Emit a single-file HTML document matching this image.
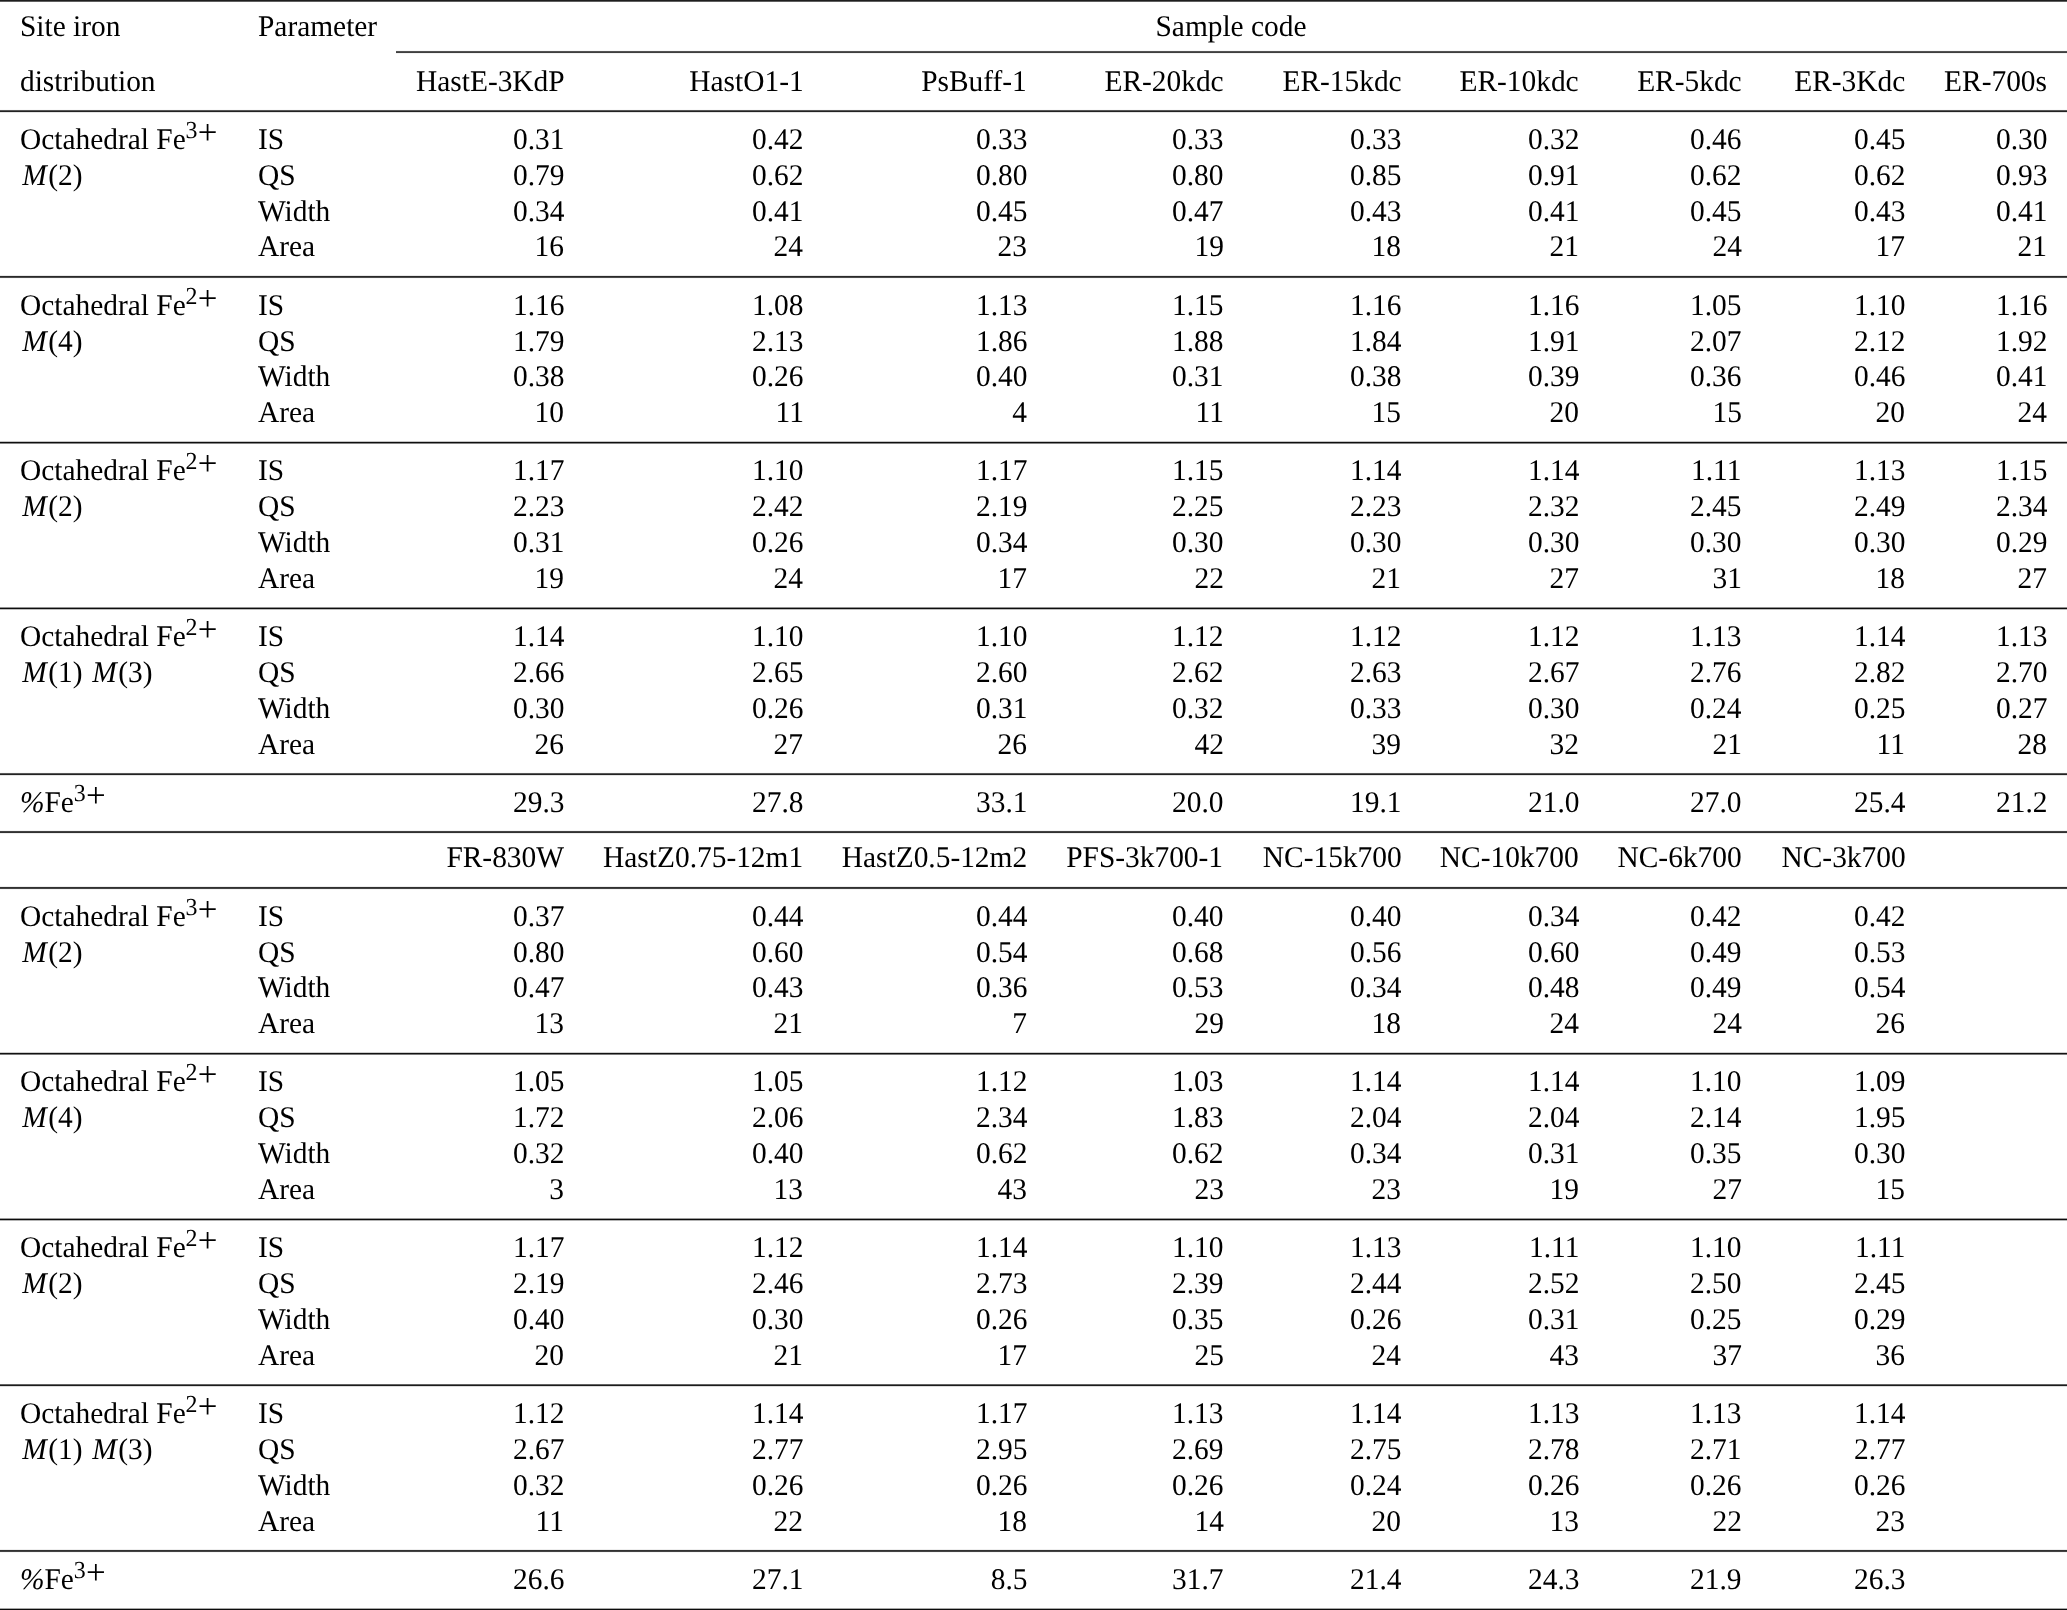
<!DOCTYPE html>
<html lang="en"><head><meta charset="utf-8"><title>Table</title>
<style>
html,body{margin:0;padding:0;background:#fff;}
body{width:2067px;height:1610px;position:relative;overflow:hidden;
 font-family:"Liberation Serif","Times New Roman",Times,serif;font-size:30.0px;color:#000;
 -webkit-font-smoothing:antialiased;text-rendering:geometricPrecision;font-kerning:normal;}
#t{position:absolute;left:0;top:0;width:2067px;height:1610px;will-change:transform;}
.r{position:absolute;}
.row{position:absolute;left:0;width:2067px;height:36px;line-height:36px;white-space:pre;}
.c{position:absolute;top:0;height:36px;white-space:pre;}
.cl{transform:scaleX(0.98);transform-origin:0 0;}
.cr{transform:scaleX(0.98);transform-origin:100% 0;}
.cc{transform:translateX(-50%) scaleX(0.98);transform-origin:50% 0;}
.s{line-height:0;}
.d{position:relative;top:-11.2px;font-size:24.4px;line-height:0;margin-left:-0.2px;}
.p{position:relative;top:-4.6px;font-size:35.6px;line-height:0;margin-left:0.4px;}
i{font-style:italic;}
.m{margin-left:2.3px;}
.g{margin-left:1.6px;}
</style></head>
<body>
<div id="t">
<div class="r" style="top:0px;left:0.0px;width:2067.0px;height:2px;background:linear-gradient(to bottom,#1e1e1e 0px 1px,#5f5f5f 1px 2px)"></div>
<div class="r" style="top:50px;left:396.2px;width:1670.8px;height:4px;background:linear-gradient(to bottom,#f9f9f9 0px 1px,#535353 1px 2px,#3f3f3f 2px 3px,#f3f3f3 3px 4px)"></div>
<div class="r" style="top:109px;left:0.0px;width:2067.0px;height:4px;background:linear-gradient(to bottom,#fafafa 0px 1px,#585858 1px 2px,#222222 2px 3px,#e4e4e4 3px 4px)"></div>
<div class="r" style="top:275px;left:0.0px;width:2067.0px;height:4px;background:linear-gradient(to bottom,#e9e9e9 0px 1px,#292929 1px 2px,#4d4d4d 2px 3px,#f8f8f8 3px 4px)"></div>
<div class="r" style="top:441px;left:0.0px;width:2067.0px;height:3px;background:linear-gradient(to bottom,#c5c5c5 0px 1px,#0f0f0f 1px 2px,#858585 2px 3px)"></div>
<div class="r" style="top:607px;left:0.0px;width:2067.0px;height:3px;background:linear-gradient(to bottom,#919191 0px 1px,#0d0d0d 1px 2px,#bcbcbc 2px 3px)"></div>
<div class="r" style="top:772px;left:0.0px;width:2067.0px;height:4px;background:linear-gradient(to bottom,#fafafa 0px 1px,#585858 1px 2px,#222222 2px 3px,#e4e4e4 3px 4px)"></div>
<div class="r" style="top:830px;left:0.0px;width:2067.0px;height:4px;background:linear-gradient(to bottom,#f5f5f5 0px 1px,#434343 1px 2px,#313131 2px 3px,#eeeeee 3px 4px)"></div>
<div class="r" style="top:886px;left:0.0px;width:2067.0px;height:4px;background:linear-gradient(to bottom,#eeeeee 0px 1px,#313131 1px 2px,#434343 2px 3px,#f5f5f5 3px 4px)"></div>
<div class="r" style="top:1052px;left:0.0px;width:2067.0px;height:3px;background:linear-gradient(to bottom,#cecece 0px 1px,#121212 1px 2px,#7a7a7a 2px 3px)"></div>
<div class="r" style="top:1218px;left:0.0px;width:2067.0px;height:3px;background:linear-gradient(to bottom,#9c9c9c 0px 1px,#0b0b0b 1px 2px,#b2b2b2 2px 3px)"></div>
<div class="r" style="top:1384px;left:0.0px;width:2067.0px;height:3px;background:linear-gradient(to bottom,#636363 0px 1px,#1c1c1c 1px 2px,#dddddd 2px 3px)"></div>
<div class="r" style="top:1549px;left:0.0px;width:2067.0px;height:4px;background:linear-gradient(to bottom,#eeeeee 0px 1px,#313131 1px 2px,#434343 2px 3px,#f5f5f5 3px 4px)"></div>
<div class="r" style="top:1608px;left:0.0px;width:2067.0px;height:2px;background:linear-gradient(to bottom,#a7a7a7 0px 1px,#0b0b0b 1px 2px)"></div>
<div class="row" style="top:9px"><span class="c cl" style="left:20.00px">Site iron</span><span class="c cl" style="left:257.70px">Parameter</span><span class="c cc" style="left:1231.45px">Sample code</span></div>
<div class="row" style="top:64px"><span class="c cl" style="left:20.00px">distribution</span><span class="c cr" style="right:1502.80px">HastE-3KdP</span><span class="c cr" style="right:1263.60px">HastO1-1</span><span class="c cr" style="right:1039.80px">PsBuff-1</span><span class="c cr" style="right:843.50px">ER-20kdc</span><span class="c cr" style="right:665.80px">ER-15kdc</span><span class="c cr" style="right:488.00px">ER-10kdc</span><span class="c cr" style="right:325.20px">ER-5kdc</span><span class="c cr" style="right:161.80px">ER-3Kdc</span><span class="c cr" style="right:19.70px">ER-700s</span></div>
<div class="row" style="top:122px"><span class="c cl" style="left:20.00px">Octahedral Fe<span class="s"><span class="d">3</span><span class="p">+</span></span></span><span class="c cl" style="left:257.70px">IS</span><span class="c cr" style="right:1502.80px">0.31</span><span class="c cr" style="right:1263.60px">0.42</span><span class="c cr" style="right:1039.80px">0.33</span><span class="c cr" style="right:843.50px">0.33</span><span class="c cr" style="right:665.80px">0.33</span><span class="c cr" style="right:488.00px">0.32</span><span class="c cr" style="right:325.20px">0.46</span><span class="c cr" style="right:161.80px">0.45</span><span class="c cr" style="right:19.70px">0.30</span></div>
<div class="row" style="top:158px"><span class="c cl" style="left:20.00px"><i class="m">M</i><span class="g">(2)</span></span><span class="c cl" style="left:257.70px">QS</span><span class="c cr" style="right:1502.80px">0.79</span><span class="c cr" style="right:1263.60px">0.62</span><span class="c cr" style="right:1039.80px">0.80</span><span class="c cr" style="right:843.50px">0.80</span><span class="c cr" style="right:665.80px">0.85</span><span class="c cr" style="right:488.00px">0.91</span><span class="c cr" style="right:325.20px">0.62</span><span class="c cr" style="right:161.80px">0.62</span><span class="c cr" style="right:19.70px">0.93</span></div>
<div class="row" style="top:194px"><span class="c cl" style="left:257.70px">Width</span><span class="c cr" style="right:1502.80px">0.34</span><span class="c cr" style="right:1263.60px">0.41</span><span class="c cr" style="right:1039.80px">0.45</span><span class="c cr" style="right:843.50px">0.47</span><span class="c cr" style="right:665.80px">0.43</span><span class="c cr" style="right:488.00px">0.41</span><span class="c cr" style="right:325.20px">0.45</span><span class="c cr" style="right:161.80px">0.43</span><span class="c cr" style="right:19.70px">0.41</span></div>
<div class="row" style="top:229px"><span class="c cl" style="left:257.70px">Area</span><span class="c cr" style="right:1502.80px">16</span><span class="c cr" style="right:1263.60px">24</span><span class="c cr" style="right:1039.80px">23</span><span class="c cr" style="right:843.50px">19</span><span class="c cr" style="right:665.80px">18</span><span class="c cr" style="right:488.00px">21</span><span class="c cr" style="right:325.20px">24</span><span class="c cr" style="right:161.80px">17</span><span class="c cr" style="right:19.70px">21</span></div>
<div class="row" style="top:288px"><span class="c cl" style="left:20.00px">Octahedral Fe<span class="s"><span class="d">2</span><span class="p">+</span></span></span><span class="c cl" style="left:257.70px">IS</span><span class="c cr" style="right:1502.80px">1.16</span><span class="c cr" style="right:1263.60px">1.08</span><span class="c cr" style="right:1039.80px">1.13</span><span class="c cr" style="right:843.50px">1.15</span><span class="c cr" style="right:665.80px">1.16</span><span class="c cr" style="right:488.00px">1.16</span><span class="c cr" style="right:325.20px">1.05</span><span class="c cr" style="right:161.80px">1.10</span><span class="c cr" style="right:19.70px">1.16</span></div>
<div class="row" style="top:324px"><span class="c cl" style="left:20.00px"><i class="m">M</i><span class="g">(4)</span></span><span class="c cl" style="left:257.70px">QS</span><span class="c cr" style="right:1502.80px">1.79</span><span class="c cr" style="right:1263.60px">2.13</span><span class="c cr" style="right:1039.80px">1.86</span><span class="c cr" style="right:843.50px">1.88</span><span class="c cr" style="right:665.80px">1.84</span><span class="c cr" style="right:488.00px">1.91</span><span class="c cr" style="right:325.20px">2.07</span><span class="c cr" style="right:161.80px">2.12</span><span class="c cr" style="right:19.70px">1.92</span></div>
<div class="row" style="top:359px"><span class="c cl" style="left:257.70px">Width</span><span class="c cr" style="right:1502.80px">0.38</span><span class="c cr" style="right:1263.60px">0.26</span><span class="c cr" style="right:1039.80px">0.40</span><span class="c cr" style="right:843.50px">0.31</span><span class="c cr" style="right:665.80px">0.38</span><span class="c cr" style="right:488.00px">0.39</span><span class="c cr" style="right:325.20px">0.36</span><span class="c cr" style="right:161.80px">0.46</span><span class="c cr" style="right:19.70px">0.41</span></div>
<div class="row" style="top:395px"><span class="c cl" style="left:257.70px">Area</span><span class="c cr" style="right:1502.80px">10</span><span class="c cr" style="right:1263.60px">11</span><span class="c cr" style="right:1039.80px">4</span><span class="c cr" style="right:843.50px">11</span><span class="c cr" style="right:665.80px">15</span><span class="c cr" style="right:488.00px">20</span><span class="c cr" style="right:325.20px">15</span><span class="c cr" style="right:161.80px">20</span><span class="c cr" style="right:19.70px">24</span></div>
<div class="row" style="top:453px"><span class="c cl" style="left:20.00px">Octahedral Fe<span class="s"><span class="d">2</span><span class="p">+</span></span></span><span class="c cl" style="left:257.70px">IS</span><span class="c cr" style="right:1502.80px">1.17</span><span class="c cr" style="right:1263.60px">1.10</span><span class="c cr" style="right:1039.80px">1.17</span><span class="c cr" style="right:843.50px">1.15</span><span class="c cr" style="right:665.80px">1.14</span><span class="c cr" style="right:488.00px">1.14</span><span class="c cr" style="right:325.20px">1.11</span><span class="c cr" style="right:161.80px">1.13</span><span class="c cr" style="right:19.70px">1.15</span></div>
<div class="row" style="top:489px"><span class="c cl" style="left:20.00px"><i class="m">M</i><span class="g">(2)</span></span><span class="c cl" style="left:257.70px">QS</span><span class="c cr" style="right:1502.80px">2.23</span><span class="c cr" style="right:1263.60px">2.42</span><span class="c cr" style="right:1039.80px">2.19</span><span class="c cr" style="right:843.50px">2.25</span><span class="c cr" style="right:665.80px">2.23</span><span class="c cr" style="right:488.00px">2.32</span><span class="c cr" style="right:325.20px">2.45</span><span class="c cr" style="right:161.80px">2.49</span><span class="c cr" style="right:19.70px">2.34</span></div>
<div class="row" style="top:525px"><span class="c cl" style="left:257.70px">Width</span><span class="c cr" style="right:1502.80px">0.31</span><span class="c cr" style="right:1263.60px">0.26</span><span class="c cr" style="right:1039.80px">0.34</span><span class="c cr" style="right:843.50px">0.30</span><span class="c cr" style="right:665.80px">0.30</span><span class="c cr" style="right:488.00px">0.30</span><span class="c cr" style="right:325.20px">0.30</span><span class="c cr" style="right:161.80px">0.30</span><span class="c cr" style="right:19.70px">0.29</span></div>
<div class="row" style="top:561px"><span class="c cl" style="left:257.70px">Area</span><span class="c cr" style="right:1502.80px">19</span><span class="c cr" style="right:1263.60px">24</span><span class="c cr" style="right:1039.80px">17</span><span class="c cr" style="right:843.50px">22</span><span class="c cr" style="right:665.80px">21</span><span class="c cr" style="right:488.00px">27</span><span class="c cr" style="right:325.20px">31</span><span class="c cr" style="right:161.80px">18</span><span class="c cr" style="right:19.70px">27</span></div>
<div class="row" style="top:619px"><span class="c cl" style="left:20.00px">Octahedral Fe<span class="s"><span class="d">2</span><span class="p">+</span></span></span><span class="c cl" style="left:257.70px">IS</span><span class="c cr" style="right:1502.80px">1.14</span><span class="c cr" style="right:1263.60px">1.10</span><span class="c cr" style="right:1039.80px">1.10</span><span class="c cr" style="right:843.50px">1.12</span><span class="c cr" style="right:665.80px">1.12</span><span class="c cr" style="right:488.00px">1.12</span><span class="c cr" style="right:325.20px">1.13</span><span class="c cr" style="right:161.80px">1.14</span><span class="c cr" style="right:19.70px">1.13</span></div>
<div class="row" style="top:655px"><span class="c cl" style="left:20.00px"><i class="m">M</i><span class="g">(1)</span> <i class="m">M</i><span class="g">(3)</span></span><span class="c cl" style="left:257.70px">QS</span><span class="c cr" style="right:1502.80px">2.66</span><span class="c cr" style="right:1263.60px">2.65</span><span class="c cr" style="right:1039.80px">2.60</span><span class="c cr" style="right:843.50px">2.62</span><span class="c cr" style="right:665.80px">2.63</span><span class="c cr" style="right:488.00px">2.67</span><span class="c cr" style="right:325.20px">2.76</span><span class="c cr" style="right:161.80px">2.82</span><span class="c cr" style="right:19.70px">2.70</span></div>
<div class="row" style="top:691px"><span class="c cl" style="left:257.70px">Width</span><span class="c cr" style="right:1502.80px">0.30</span><span class="c cr" style="right:1263.60px">0.26</span><span class="c cr" style="right:1039.80px">0.31</span><span class="c cr" style="right:843.50px">0.32</span><span class="c cr" style="right:665.80px">0.33</span><span class="c cr" style="right:488.00px">0.30</span><span class="c cr" style="right:325.20px">0.24</span><span class="c cr" style="right:161.80px">0.25</span><span class="c cr" style="right:19.70px">0.27</span></div>
<div class="row" style="top:727px"><span class="c cl" style="left:257.70px">Area</span><span class="c cr" style="right:1502.80px">26</span><span class="c cr" style="right:1263.60px">27</span><span class="c cr" style="right:1039.80px">26</span><span class="c cr" style="right:843.50px">42</span><span class="c cr" style="right:665.80px">39</span><span class="c cr" style="right:488.00px">32</span><span class="c cr" style="right:325.20px">21</span><span class="c cr" style="right:161.80px">11</span><span class="c cr" style="right:19.70px">28</span></div>
<div class="row" style="top:785px"><span class="c cl" style="left:20.00px"><i>%</i>Fe<span class="s"><span class="d">3</span><span class="p">+</span></span></span><span class="c cr" style="right:1502.80px">29.3</span><span class="c cr" style="right:1263.60px">27.8</span><span class="c cr" style="right:1039.80px">33.1</span><span class="c cr" style="right:843.50px">20.0</span><span class="c cr" style="right:665.80px">19.1</span><span class="c cr" style="right:488.00px">21.0</span><span class="c cr" style="right:325.20px">27.0</span><span class="c cr" style="right:161.80px">25.4</span><span class="c cr" style="right:19.70px">21.2</span></div>
<div class="row" style="top:840px"><span class="c cr" style="right:1502.80px">FR-830W</span><span class="c cr" style="right:1263.60px">HastZ0.75-12m1</span><span class="c cr" style="right:1039.80px">HastZ0.5-12m2</span><span class="c cr" style="right:843.50px">PFS-3k700-1</span><span class="c cr" style="right:665.80px">NC-15k700</span><span class="c cr" style="right:488.00px">NC-10k700</span><span class="c cr" style="right:325.20px">NC-6k700</span><span class="c cr" style="right:161.80px">NC-3k700</span></div>
<div class="row" style="top:899px"><span class="c cl" style="left:20.00px">Octahedral Fe<span class="s"><span class="d">3</span><span class="p">+</span></span></span><span class="c cl" style="left:257.70px">IS</span><span class="c cr" style="right:1502.80px">0.37</span><span class="c cr" style="right:1263.60px">0.44</span><span class="c cr" style="right:1039.80px">0.44</span><span class="c cr" style="right:843.50px">0.40</span><span class="c cr" style="right:665.80px">0.40</span><span class="c cr" style="right:488.00px">0.34</span><span class="c cr" style="right:325.20px">0.42</span><span class="c cr" style="right:161.80px">0.42</span></div>
<div class="row" style="top:935px"><span class="c cl" style="left:20.00px"><i class="m">M</i><span class="g">(2)</span></span><span class="c cl" style="left:257.70px">QS</span><span class="c cr" style="right:1502.80px">0.80</span><span class="c cr" style="right:1263.60px">0.60</span><span class="c cr" style="right:1039.80px">0.54</span><span class="c cr" style="right:843.50px">0.68</span><span class="c cr" style="right:665.80px">0.56</span><span class="c cr" style="right:488.00px">0.60</span><span class="c cr" style="right:325.20px">0.49</span><span class="c cr" style="right:161.80px">0.53</span></div>
<div class="row" style="top:970px"><span class="c cl" style="left:257.70px">Width</span><span class="c cr" style="right:1502.80px">0.47</span><span class="c cr" style="right:1263.60px">0.43</span><span class="c cr" style="right:1039.80px">0.36</span><span class="c cr" style="right:843.50px">0.53</span><span class="c cr" style="right:665.80px">0.34</span><span class="c cr" style="right:488.00px">0.48</span><span class="c cr" style="right:325.20px">0.49</span><span class="c cr" style="right:161.80px">0.54</span></div>
<div class="row" style="top:1006px"><span class="c cl" style="left:257.70px">Area</span><span class="c cr" style="right:1502.80px">13</span><span class="c cr" style="right:1263.60px">21</span><span class="c cr" style="right:1039.80px">7</span><span class="c cr" style="right:843.50px">29</span><span class="c cr" style="right:665.80px">18</span><span class="c cr" style="right:488.00px">24</span><span class="c cr" style="right:325.20px">24</span><span class="c cr" style="right:161.80px">26</span></div>
<div class="row" style="top:1064px"><span class="c cl" style="left:20.00px">Octahedral Fe<span class="s"><span class="d">2</span><span class="p">+</span></span></span><span class="c cl" style="left:257.70px">IS</span><span class="c cr" style="right:1502.80px">1.05</span><span class="c cr" style="right:1263.60px">1.05</span><span class="c cr" style="right:1039.80px">1.12</span><span class="c cr" style="right:843.50px">1.03</span><span class="c cr" style="right:665.80px">1.14</span><span class="c cr" style="right:488.00px">1.14</span><span class="c cr" style="right:325.20px">1.10</span><span class="c cr" style="right:161.80px">1.09</span></div>
<div class="row" style="top:1100px"><span class="c cl" style="left:20.00px"><i class="m">M</i><span class="g">(4)</span></span><span class="c cl" style="left:257.70px">QS</span><span class="c cr" style="right:1502.80px">1.72</span><span class="c cr" style="right:1263.60px">2.06</span><span class="c cr" style="right:1039.80px">2.34</span><span class="c cr" style="right:843.50px">1.83</span><span class="c cr" style="right:665.80px">2.04</span><span class="c cr" style="right:488.00px">2.04</span><span class="c cr" style="right:325.20px">2.14</span><span class="c cr" style="right:161.80px">1.95</span></div>
<div class="row" style="top:1136px"><span class="c cl" style="left:257.70px">Width</span><span class="c cr" style="right:1502.80px">0.32</span><span class="c cr" style="right:1263.60px">0.40</span><span class="c cr" style="right:1039.80px">0.62</span><span class="c cr" style="right:843.50px">0.62</span><span class="c cr" style="right:665.80px">0.34</span><span class="c cr" style="right:488.00px">0.31</span><span class="c cr" style="right:325.20px">0.35</span><span class="c cr" style="right:161.80px">0.30</span></div>
<div class="row" style="top:1172px"><span class="c cl" style="left:257.70px">Area</span><span class="c cr" style="right:1502.80px">3</span><span class="c cr" style="right:1263.60px">13</span><span class="c cr" style="right:1039.80px">43</span><span class="c cr" style="right:843.50px">23</span><span class="c cr" style="right:665.80px">23</span><span class="c cr" style="right:488.00px">19</span><span class="c cr" style="right:325.20px">27</span><span class="c cr" style="right:161.80px">15</span></div>
<div class="row" style="top:1230px"><span class="c cl" style="left:20.00px">Octahedral Fe<span class="s"><span class="d">2</span><span class="p">+</span></span></span><span class="c cl" style="left:257.70px">IS</span><span class="c cr" style="right:1502.80px">1.17</span><span class="c cr" style="right:1263.60px">1.12</span><span class="c cr" style="right:1039.80px">1.14</span><span class="c cr" style="right:843.50px">1.10</span><span class="c cr" style="right:665.80px">1.13</span><span class="c cr" style="right:488.00px">1.11</span><span class="c cr" style="right:325.20px">1.10</span><span class="c cr" style="right:161.80px">1.11</span></div>
<div class="row" style="top:1266px"><span class="c cl" style="left:20.00px"><i class="m">M</i><span class="g">(2)</span></span><span class="c cl" style="left:257.70px">QS</span><span class="c cr" style="right:1502.80px">2.19</span><span class="c cr" style="right:1263.60px">2.46</span><span class="c cr" style="right:1039.80px">2.73</span><span class="c cr" style="right:843.50px">2.39</span><span class="c cr" style="right:665.80px">2.44</span><span class="c cr" style="right:488.00px">2.52</span><span class="c cr" style="right:325.20px">2.50</span><span class="c cr" style="right:161.80px">2.45</span></div>
<div class="row" style="top:1302px"><span class="c cl" style="left:257.70px">Width</span><span class="c cr" style="right:1502.80px">0.40</span><span class="c cr" style="right:1263.60px">0.30</span><span class="c cr" style="right:1039.80px">0.26</span><span class="c cr" style="right:843.50px">0.35</span><span class="c cr" style="right:665.80px">0.26</span><span class="c cr" style="right:488.00px">0.31</span><span class="c cr" style="right:325.20px">0.25</span><span class="c cr" style="right:161.80px">0.29</span></div>
<div class="row" style="top:1338px"><span class="c cl" style="left:257.70px">Area</span><span class="c cr" style="right:1502.80px">20</span><span class="c cr" style="right:1263.60px">21</span><span class="c cr" style="right:1039.80px">17</span><span class="c cr" style="right:843.50px">25</span><span class="c cr" style="right:665.80px">24</span><span class="c cr" style="right:488.00px">43</span><span class="c cr" style="right:325.20px">37</span><span class="c cr" style="right:161.80px">36</span></div>
<div class="row" style="top:1396px"><span class="c cl" style="left:20.00px">Octahedral Fe<span class="s"><span class="d">2</span><span class="p">+</span></span></span><span class="c cl" style="left:257.70px">IS</span><span class="c cr" style="right:1502.80px">1.12</span><span class="c cr" style="right:1263.60px">1.14</span><span class="c cr" style="right:1039.80px">1.17</span><span class="c cr" style="right:843.50px">1.13</span><span class="c cr" style="right:665.80px">1.14</span><span class="c cr" style="right:488.00px">1.13</span><span class="c cr" style="right:325.20px">1.13</span><span class="c cr" style="right:161.80px">1.14</span></div>
<div class="row" style="top:1432px"><span class="c cl" style="left:20.00px"><i class="m">M</i><span class="g">(1)</span> <i class="m">M</i><span class="g">(3)</span></span><span class="c cl" style="left:257.70px">QS</span><span class="c cr" style="right:1502.80px">2.67</span><span class="c cr" style="right:1263.60px">2.77</span><span class="c cr" style="right:1039.80px">2.95</span><span class="c cr" style="right:843.50px">2.69</span><span class="c cr" style="right:665.80px">2.75</span><span class="c cr" style="right:488.00px">2.78</span><span class="c cr" style="right:325.20px">2.71</span><span class="c cr" style="right:161.80px">2.77</span></div>
<div class="row" style="top:1468px"><span class="c cl" style="left:257.70px">Width</span><span class="c cr" style="right:1502.80px">0.32</span><span class="c cr" style="right:1263.60px">0.26</span><span class="c cr" style="right:1039.80px">0.26</span><span class="c cr" style="right:843.50px">0.26</span><span class="c cr" style="right:665.80px">0.24</span><span class="c cr" style="right:488.00px">0.26</span><span class="c cr" style="right:325.20px">0.26</span><span class="c cr" style="right:161.80px">0.26</span></div>
<div class="row" style="top:1504px"><span class="c cl" style="left:257.70px">Area</span><span class="c cr" style="right:1502.80px">11</span><span class="c cr" style="right:1263.60px">22</span><span class="c cr" style="right:1039.80px">18</span><span class="c cr" style="right:843.50px">14</span><span class="c cr" style="right:665.80px">20</span><span class="c cr" style="right:488.00px">13</span><span class="c cr" style="right:325.20px">22</span><span class="c cr" style="right:161.80px">23</span></div>
<div class="row" style="top:1562px"><span class="c cl" style="left:20.00px"><i>%</i>Fe<span class="s"><span class="d">3</span><span class="p">+</span></span></span><span class="c cr" style="right:1502.80px">26.6</span><span class="c cr" style="right:1263.60px">27.1</span><span class="c cr" style="right:1039.80px">8.5</span><span class="c cr" style="right:843.50px">31.7</span><span class="c cr" style="right:665.80px">21.4</span><span class="c cr" style="right:488.00px">24.3</span><span class="c cr" style="right:325.20px">21.9</span><span class="c cr" style="right:161.80px">26.3</span></div>
</div>
</body></html>
